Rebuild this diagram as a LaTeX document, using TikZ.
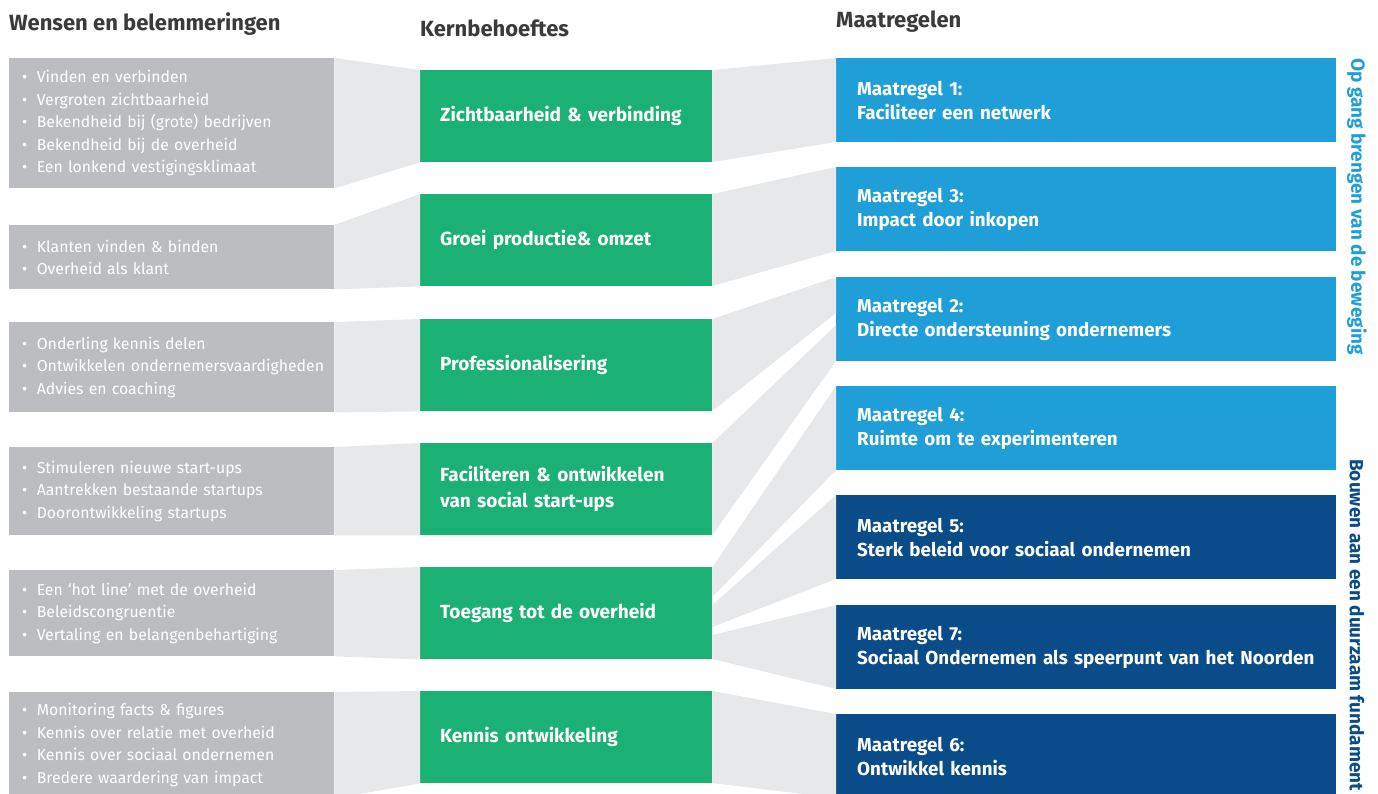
\documentclass[tikz,border=0pt]{standalone}
\usepackage{fontspec}
\setmainfont{Fira Sans}

\definecolor{wensgrey}{HTML}{BCBDC0}
\definecolor{bandgrey}{HTML}{E7E8E9}
\definecolor{kerngreen}{HTML}{1BB074}
\definecolor{maatlight}{HTML}{1F9ED8}
\definecolor{maatdark}{HTML}{0A4C89}
\definecolor{titlegrey}{HTML}{3A3A3A}

\newcommand{\bul}{\hspace*{13pt}\textbullet\hspace{9.5pt}}

\begin{document}
\begin{tikzpicture}
[x=1pt, y=-1pt,
  wensdecorate/.style={anchor=north west, fill=wensgrey, text=white,
    inner sep=0pt, text width=325pt, align=left,
    font=\fontsize{15.8}{22.5}\selectfont},
  kerndecorate/.style={anchor=north west, fill=kerngreen, text=white,
    inner sep=0pt, inner xsep=20pt, text width=252pt, minimum height=92pt,
    align=left, font=\fontsize{19}{26}\selectfont\bfseries},
  maatdecorate/.style={anchor=north west, text=white,
    inner sep=0pt, inner xsep=21pt, text width=458pt, minimum height=84pt,
    align=left, font=\fontsize{18.8}{24}\selectfont\bfseries},
  titledecorate/.style={anchor=west, inner sep=0pt, text=titlegrey,
    font=\fontsize{22}{26}\selectfont\bfseries},
  sidedecorate/.style={anchor=west, inner sep=0pt, rotate=-90,
    font=\fontsize{19}{23}\selectfont\bfseries},
  banddecorate/.style={fill=bandgrey}]
\useasboundingbox (0,0) rectangle (1378,794);
\clip (0,0) rectangle (1378,794);
%% column titles
\node [titledecorate] (t1) at (9,24) {Wensen en belemmeringen};
\node [titledecorate] (t2) at (420,28) {Kernbehoeftes};
\node [titledecorate] (t3) at (836,22) {Maatregelen};
%% wishes and obstacles
\foreach \nodename/\y/\h/\txt in {
  w1/58/130/{\bul Vinden en verbinden\\ \bul Vergroten zichtbaarheid\\
    \bul Bekendheid bij (grote) bedrijven\\ \bul Bekendheid bij de overheid\\
    \bul Een lonkend vestigingsklimaat},
  w2/225/64/{\bul Klanten vinden \& binden\\ \bul Overheid als klant},
  w3/322/90/{\bul Onderling kennis delen\\
    \bul Ontwikkelen ondernemersvaardigheden\\ \bul Advies en coaching},
  w4/447/88/{\bul Stimuleren nieuwe start-ups\\
    \bul Aantrekken bestaande startups\\ \bul Doorontwikkeling startups},
  w5/570/86/{\bul Een ‘hot line’ met de overheid\\ \bul Beleidscongruentie\\
    \bul Vertaling en belangenbehartiging},
  w6/692/106/{\bul Monitoring facts \& figures\\
    \bul Kennis over relatie met overheid\\
    \bul Kennis over sociaal ondernemen\\ \bul Bredere waardering van impact}}
{
  \node (\nodename) at (9,\y) [wensdecorate, minimum height=\h pt] {\txt};
}
%% core needs
\foreach \nodename/\y/\txt in {
  k1/70/{Zichtbaarheid \& verbinding},
  k2/194/{Groei productie\& omzet},
  k3/319/{Professionalisering},
  k4/443/{Faciliteren \& ontwikkelen\\van social start-ups},
  k5/567/{Toegang tot de overheid},
  k6/691/{Kennis ontwikkeling}}
{
  \node (\nodename) at (420,\y) [kerndecorate] {\txt};
}
%% measures
\foreach \nodename/\y/\shade/\txt in {
  m1/58/maatlight/{Maatregel 1:\\Faciliteer een netwerk},
  m3/167/maatlight/{Maatregel 3:\\Impact door inkopen},
  m2/277/maatlight/{Maatregel 2:\\Directe ondersteuning ondernemers},
  m4/386/maatlight/{Maatregel 4:\\Ruimte om te experimenteren},
  m5/495/maatdark/{Maatregel 5:\\Sterk beleid voor sociaal ondernemen},
  m7/605/maatdark/{Maatregel 7:\\Sociaal Ondernemen als speerpunt van het Noorden},
  m6/714/maatdark/{Maatregel 6:\\Ontwikkel kennis}}
{
  \node (\nodename) at (836,\y) [maatdecorate, fill=\shade] {\txt};
}
%% bands from wishes to core needs
\foreach \i in {1,...,6}
{
  \fill [banddecorate] (w\i.north east) -- (k\i.north west)
    -- (k\i.south west) -- (w\i.south east) -- cycle;
}
%% bands from core needs to measures
\foreach \startnode/\a/\b/\endnode/\c/\d in {k1/0/92/m1/0/84,
  k2/0/92/m3/0/84, k3/0/92/m2/0/36, k4/0/92/m2/48/84, k5/0/30/m4/0/84,
  k5/38/60/m5/0/84, k5/68/92/m7/0/84, k6/0/92/m6/0/84}
{
  \fill [banddecorate] ([yshift=-\a pt]\startnode.north east)
    -- ([yshift=-\c pt]\endnode.north west)
    -- ([yshift=-\d pt]\endnode.north west)
    -- ([yshift=-\b pt]\startnode.north east) -- cycle;
}
%% side labels
\node [sidedecorate, text=maatlight] (s1) at (1357,58)
  {Op gang brengen van de beweging};
\node [sidedecorate, text=maatdark] (s2) at (1357,459)
  {Bouwen aan een duurzaam fundament};
\end{tikzpicture}
\end{document}
